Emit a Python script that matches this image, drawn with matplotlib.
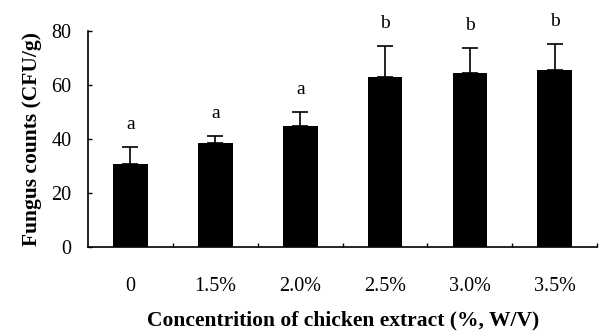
import matplotlib.pyplot as plt
import numpy as np

labels = ['0', '1.5%', '2.0%', '2.5%', '3.0%', '3.5%']
counts = [30.7, 38.5, 44.8, 63.0, 64.4, 65.5]
sd = [6.3, 2.6, 5.2, 11.4, 9.3, 9.7]
letters = ['a', 'a', 'a', 'b', 'b', 'b']

plt.rcParams['font.family'] = 'Liberation Serif'

fig = plt.figure(figsize=(5.99, 3.31), dpi=100)
ax = fig.add_axes([0.147, 0.254, 0.850, 0.652])

x = np.arange(len(labels))
ax.bar(x, counts, width=0.41, color='black')
ax.errorbar(x, counts, yerr=[np.zeros(len(sd)), sd], fmt='none',
            ecolor='black', elinewidth=1.2, capsize=5.5, capthick=1.2)

for xi, m, s, t in zip(x, counts, sd, letters):
    ax.text(xi, m + s + 8.5, t, ha='center', va='center', fontsize=14)

ax.set_xlim(-0.5, len(labels) - 0.5)
ax.set_ylim(0, 80)
ax.set_yticks([0, 20, 40, 60, 80])
ax.set_xticks(x)
ax.set_xticklabels(labels)
ax.set_xticks(np.arange(0.5, len(labels), 1), minor=True)
ax.tick_params(axis='x', which='major', length=0, pad=22, labelsize=14.5)
ax.tick_params(axis='x', which='minor', direction='in', length=3, width=1)
ax.tick_params(axis='y', direction='in', length=3, width=1, pad=12, labelsize=14.5)

for side in ['top', 'right']:
    ax.spines[side].set_visible(False)
for side in ['left', 'bottom']:
    ax.spines[side].set_linewidth(1.2)

ax.set_ylabel('Fungus counts (CFU/g)', fontsize=15.5, fontweight='bold', labelpad=7)
ax.set_xlabel('Concentrition of chicken extract (%, W/V)', fontsize=15.5,
              fontweight='bold', labelpad=10)

fig.savefig('out.png', dpi=100)
